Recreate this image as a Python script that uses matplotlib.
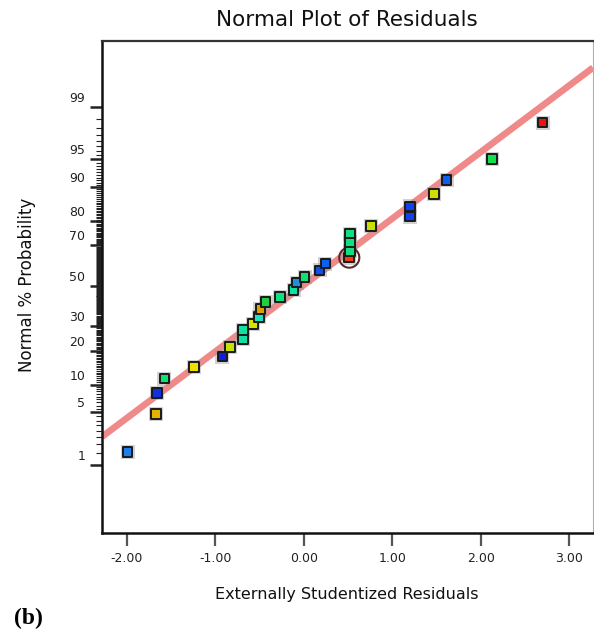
import matplotlib
matplotlib.use("Agg")
import matplotlib.pyplot as plt
from matplotlib.transforms import ScaledTranslation
from statistics import NormalDist

# externally studentized residuals and their normal % probability
residuals = [-1.99, -1.66, -1.67, -1.575, -1.24, -0.92, -0.83, -0.685, -0.685, -0.57,
             -0.505, -0.49, -0.43, -0.27, -0.115, -0.08, 0.01, 0.18, 0.245, 0.515,
             0.52, 0.52, 0.52, 0.76, 1.20, 1.20, 1.47, 1.615, 2.13, 2.70]
probability = [1.55, 8.2, 4.8, 11.4, 14.6, 17.9, 21.3, 24.6, 28.3, 31.1,
               34.3, 38.1, 41.6, 44.3, 47.8, 51.7, 54.7, 57.9, 61.4, 64.3,
               67.4, 71.5, 75.1, 78.2, 81.6, 84.9, 88.4, 91.6, 95.0, 98.3]
point_colors = ["#1f7fe8", "#1030e0", "#e6b400", "#10e070", "#f0e000", "#1020e0", "#c8e000",
                "#10e0a0", "#10e0a0", "#d8e000", "#20e0c0", "#e0a000", "#20d040", "#10e080",
                "#10e0a0", "#1e90e0", "#10e070", "#1050f0", "#1060f0", "#f04010",
                "#10e080", "#10e080", "#10e080", "#c8e000", "#1040f0", "#1040f0", "#d0e000",
                "#1060f0", "#10e050", "#f01010"]
highlight = 19  # point with the circle around it

# reference line (two end points in data units)
line_x = [-2.28, 3.27]
line_pct = [2.5, 99.77]

prob_ticks = [1, 5, 10, 20, 30, 50, 70, 80, 90, 95, 99]
x_ticks = [-2.0, -1.0, 0.0, 1.0, 2.0, 3.0]

nd = NormalDist()
z = lambda p: nd.inv_cdf(p / 100.0)

fig = plt.figure(figsize=(5.94, 6.31), dpi=100)
ax = fig.add_axes([102 / 594, 1 - 533 / 631, 491 / 594, 492 / 631])

ax.plot(line_x, [z(p) for p in line_pct], color="#f08a8a", lw=4.8, solid_capstyle="butt", zorder=2)

ys = [z(p) for p in probability]
# soft grey halo behind each square
ax.scatter(residuals, ys, marker="s", s=105, color="#9a9a9a", alpha=0.45, lw=0, zorder=3)
ax.scatter(residuals, ys, marker="s", s=48, c=point_colors, edgecolors="#1a1a1a",
           linewidths=1.4, zorder=4)
ax.scatter([residuals[highlight]], [ys[highlight]], marker="o", s=210, facecolors="none",
           edgecolors="#5a2a2a", linewidths=1.5, zorder=3.5)

ax.set_xlim(-2.28, 3.27)
ax.set_ylim(-3.21, 3.18)

ax.set_xticks(x_ticks)
ax.set_xticklabels([f"{v:.2f}" for v in x_ticks])
ax.set_yticks([z(p) for p in prob_ticks])
ax.set_yticklabels([str(p) for p in prob_ticks])
ax.set_yticks([z(p / 2) for p in range(2, 199)], minor=True)

ax.tick_params(axis="x", length=9, width=1.6, color="#555555", pad=5, labelsize=9,
               labelcolor="#222222")
ax.tick_params(axis="y", which="major", length=9, width=1.8, color="#222222", pad=3,
               labelsize=9, labelcolor="#222222")
ax.tick_params(axis="y", which="minor", length=4, width=0.8, color="#222222")

# the labels sit a little above their ticks in the original
for lab in ax.get_yticklabels():
    lab.set_transform(lab.get_transform() + ScaledTranslation(0, 0.1, fig.dpi_scale_trans))

for side in ("left", "bottom"):
    ax.spines[side].set_linewidth(1.8)
    ax.spines[side].set_color("#111111")
ax.spines["top"].set_linewidth(1.6)
ax.spines["top"].set_color("#333333")
ax.spines["right"].set_linewidth(0.8)
ax.spines["right"].set_color("#b0b0b0")

fig.text(347 / 594, 1 - 20 / 631, "Normal Plot of Residuals", ha="center", va="center",
         fontsize=15.5, color="#111111")
fig.text(347 / 594, 1 - 595 / 631, "Externally Studentized Residuals", ha="center",
         va="center", fontsize=11.5, color="#111111")
fig.text(27 / 594, 1 - 285 / 631, "Normal % Probability", ha="center", va="center",
         rotation=90, fontsize=12, color="#111111")
fig.text(14 / 594, 1 - 618 / 631, "(b)", ha="left", va="center", fontsize=17,
         fontweight="bold", family="Liberation Serif")

fig.savefig("out.png", dpi=100)
